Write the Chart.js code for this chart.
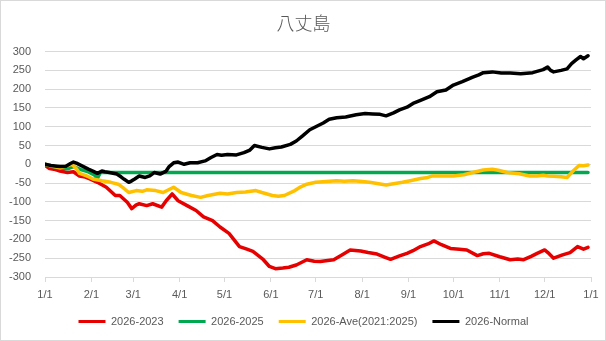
<!DOCTYPE html>
<html>
<head>
<meta charset="utf-8">
<script src="https://cdn.jsdelivr.net/npm/chart.js@4.4.1/dist/chart.umd.min.js"></script>
<style>
  html, body { margin: 0; padding: 0; background: #fff; }
  canvas { display: block; }
</style>
</head>
<body>
<canvas id="hachijo" width="606" height="341"></canvas>
<script>
// day of year (0 = 1/1) and cumulative difference
const diff2023 = [
  [0, -3], [3, -11], [7, -14], [10, -18], [15, -22], [19, -20], [23, -31], [27, -34],
  [30, -39], [35, -48], [41, -61], [47, -83], [50, -83], [55, -101], [58, -118], [61, -108],
  [63, -105], [68, -110], [72, -105], [78, -114], [81, -97], [85, -79], [89, -97], [95, -110],
  [101, -123], [106, -140], [112, -150], [117, -167], [123, -184], [130, -219], [135, -226],
  [139, -232], [146, -254], [150, -272], [154, -278], [159, -276], [163, -274], [168, -268],
  [175, -254], [180, -258], [184, -259], [189, -256], [193, -254], [199, -240], [204, -228],
  [211, -231], [216, -235], [222, -239], [227, -247], [231, -253], [237, -244], [242, -237],
  [246, -230], [251, -219], [256, -212], [260, -204], [265, -214], [271, -224], [277, -226],
  [282, -228], [289, -243], [293, -238], [297, -237], [304, -246], [311, -254], [316, -252],
  [320, -254], [325, -245], [329, -237], [334, -228], [337, -238], [340, -250], [346, -241],
  [351, -235], [356, -219], [360, -226], [363, -221],
];

const diff2025 = [
  [0, 0], [5, -6], [10, -10], [15, -12], [19, -6], [24, -14], [29, -20], [33, -28],
  [35, -38], [37, -22], [363, -22],
];

const diffAve = [
  [0, 0], [5, -5], [10, -9], [13, -6], [18, 0], [21, -12], [23, -24], [26, -28], [29, -33],
  [32, -39], [38, -44], [44, -48], [49, -53], [53, -65], [56, -75], [61, -70], [65, -72],
  [68, -68], [74, -70], [79, -75], [86, -61], [91, -75], [98, -83], [104, -88], [109, -83],
  [117, -77], [122, -79], [128, -75], [134, -74], [141, -70], [145, -75], [152, -83],
  [156, -85], [160, -83], [167, -70], [171, -60], [175, -53], [181, -48], [188, -46],
  [195, -44], [200, -45], [206, -44], [212, -46], [217, -48], [223, -52], [228, -55],
  [234, -51], [239, -48], [245, -43], [251, -38], [255, -36], [259, -31], [266, -31],
  [273, -31], [280, -28], [286, -22], [293, -15], [299, -13], [303, -16], [309, -22],
  [317, -25], [324, -31], [329, -31], [333, -29], [336, -31], [340, -32], [345, -33],
  [349, -35], [353, -18], [357, -3], [360, -4], [363, -2],
];

const diffNormal = [
  [0, 0], [4, -3], [8, -5], [10, -6], [14, -5], [17, 2], [19, 6], [21, 3], [24, -3],
  [29, -13], [32, -18], [35, -24], [38, -18], [40, -20], [43, -22], [48, -26], [51, -34],
  [53, -40], [56, -48], [58, -44], [60, -39], [63, -31], [67, -35], [70, -31], [73, -22],
  [77, -26], [81, -18], [83, -6], [86, 4], [89, 6], [93, 0], [97, 4], [102, 4], [107, 9],
  [111, 18], [115, 26], [118, 24], [122, 26], [128, 25], [133, 31], [137, 38], [140, 50],
  [145, 45], [150, 41], [154, 44], [158, 46], [164, 53], [168, 62], [172, 75], [177, 92],
  [181, 100], [186, 110], [190, 120], [195, 124], [201, 126], [208, 132], [214, 135],
  [219, 134], [224, 133], [228, 129], [233, 137], [237, 145], [242, 152], [246, 162],
  [251, 170], [257, 180], [262, 193], [268, 198], [273, 211], [279, 220], [286, 232],
  [290, 238], [293, 244], [299, 246], [305, 243], [311, 243], [318, 241], [326, 244],
  [333, 252], [336, 259], [338, 250], [340, 246], [345, 250], [349, 254], [352, 268],
  [355, 278], [358, 287], [360, 281], [363, 289],
];

const seriesNames = ['2026-2023', '2026-2025', '2026-Ave(2021:2025)', '2026-Normal'];
const seriesColors = ['#E60000', '#00A850', '#FFC000', '#000000'];

const monthDays = [0, 31, 59, 90, 120, 151, 181, 212, 243, 273, 304, 334, 365];
const monthLabels = ['1/1', '2/1', '3/1', '4/1', '5/1', '6/1', '7/1', '8/1', '9/1', '10/1', '11/1', '12/1', '1/1'];

const textColor = '#595959';
const gridColor = '#d9d9d9';
const labelFont = { family: "'Liberation Sans', Arial, sans-serif", size: 11 };

const frame = {
  id: 'frame',
  beforeDraw(chart) {
    const { ctx, width, height } = chart;
    ctx.save();
    ctx.fillStyle = '#fff';
    ctx.fillRect(0, 0, width, height);
    ctx.strokeStyle = gridColor;
    ctx.lineWidth = 1;
    ctx.strokeRect(0.5, 0.5, width - 1, height - 1);
    ctx.restore();
  },
};

const allSeries = [diff2023, diff2025, diffAve, diffNormal];
const datasets = allSeries.map((pts, i) => ({
  label: seriesNames[i],
  data: pts.map(([d, v]) => ({ x: d, y: v })),
  borderColor: seriesColors[i],
  backgroundColor: seriesColors[i],
  borderWidth: 3.5,
  pointRadius: 0,
  tension: 0,
  borderJoinStyle: 'round',
  borderCapStyle: 'round',
  order: allSeries.length - i, // later series on top
}));

new Chart(document.getElementById('hachijo'), {
  type: 'line',
  data: { datasets },
  plugins: [frame],
  options: {
    responsive: false,
    animation: false,
    devicePixelRatio: 1,
    layout: { padding: { left: 8, right: 7, top: 0, bottom: 4 } },
    plugins: {
      title: {
        display: true,
        text: '八丈島',
        color: textColor,
        font: { family: "'Noto Sans CJK JP', sans-serif", size: 18, weight: '300' },
        padding: { top: 12, bottom: 18 },
      },
      legend: {
        position: 'bottom',
        labels: {
          color: textColor,
          font: labelFont,
          boxWidth: 27,
          boxHeight: 3,
          padding: 15,
          generateLabels(chart) {
            return chart.data.datasets.map((ds, i) => ({
              text: ds.label,
              fillStyle: ds.borderColor,
              strokeStyle: ds.borderColor,
              lineWidth: 0,
              fontColor: textColor,
              hidden: false,
              datasetIndex: i,
            }));
          },
        },
      },
      tooltip: { enabled: false },
    },
    scales: {
      x: {
        type: 'linear',
        min: 0,
        max: 365,
        afterBuildTicks(axis) {
          axis.ticks = monthDays.map((d) => ({ value: d }));
        },
        afterFit(scale) {
          scale.height = 24;
        },
        ticks: {
          autoSkip: false,
          maxRotation: 0,
          color: textColor,
          font: labelFont,
          padding: 6,
          callback: (v, i) => monthLabels[i],
        },
        grid: {
          drawOnChartArea: false,
          drawTicks: true,
          tickLength: 5,
          color: gridColor,
        },
        border: { display: true, color: gridColor },
      },
      y: {
        min: -300,
        max: 300,
        afterFit(scale) {
          scale.width = 37;
        },
        ticks: {
          stepSize: 50,
          color: textColor,
          font: labelFont,
          padding: 14,
        },
        grid: {
          color: gridColor,
          drawTicks: false,
        },
        border: { display: false },
      },
      // empty strip keeping the plot clear of the right edge
      yRight: {
        position: 'right',
        min: -300,
        max: 300,
        afterFit(scale) {
          scale.width = 8;
        },
        ticks: { display: false },
        grid: { display: false },
        border: { display: false },
      },
    },
  },
});
</script>
</body>
</html>
